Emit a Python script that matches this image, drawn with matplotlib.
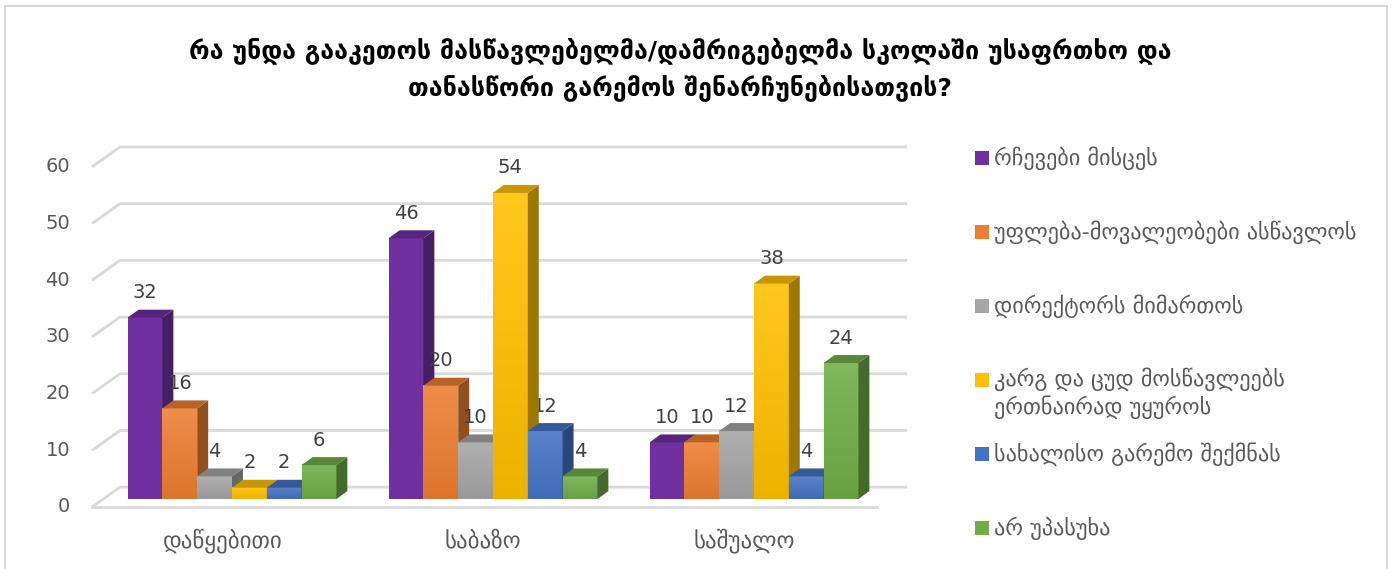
import numpy as np
import matplotlib.pyplot as plt
from matplotlib.patches import Polygon, Rectangle
from matplotlib.colors import to_rgb

# data
categories = ["დაწყებითი", "საბაზო", "საშუალო"]
series = [
    "რჩევები მისცეს",
    "უფლება-მოვალეობები ასწავლოს",
    "დირექტორს მიმართოს",
    "კარგ და ცუდ მოსწავლეებს\nერთნაირად უყუროს",
    "სახალისო გარემო შექმნას",
    "არ უპასუხა",
]
values = [
    [32, 46, 10],
    [16, 20, 10],
    [4, 10, 12],
    [2, 54, 38],
    [2, 12, 4],
    [6, 4, 24],
]
colors = ["#7030A0", "#ED7D31", "#A5A5A5", "#FFC000", "#4472C4", "#70AD47"]
yticks = [0, 10, 20, 30, 40, 50, 60]
title = ("რა უნდა გააკეთოს მასწავლებელმა/დამრიგებელმა სკოლაში უსაფრთხო და\n"
         "თანასწორი გარემოს შენარჩუნებისათვის?")

plt.rcParams['font.family'] = ['DejaVu Sans']

W, H = 1392, 569
fig = plt.figure(figsize=(W / 100, H / 100), dpi=100)

# axes box in pixels (left, top, right, bottom)
L, T, R, B = 80, 130, 960, 530
ax = fig.add_axes([L / W, 1 - B / H, (R - L) / W, (B - T) / H])
# mapping: px = 232 + 261*x ; py = 507 - 5.67*y
xlim = ((L - 232) / 261, (R - 232) / 261)
ylim = ((507 - B) / 5.67, (507 - T) / 5.67)
ax.axis('off')

grid_c = "#D9D9D9"
back_dy = 3.5      # back wall offset (value units)
x_front, x_back, x_end, floor_end = -0.536, -0.429, 2.586, 2.471
for t in yticks:
    ax.plot([x_front, x_back, x_end], [t, t + back_dy, t + back_dy],
            color=grid_c, lw=2, solid_capstyle='butt', zorder=1)
    ax.text(-0.62, t, str(t), ha='right', va='center', fontsize=14, color="#595959")
ax.plot([x_front, floor_end], [0, 0], color=grid_c, lw=2, zorder=1)

# 3d bars
bw = 0.8 / len(series)
base = 1.4
ddx, ddy = 0.042, 1.4


def shade(c, f):
    r, g, b = to_rgb(c)
    if f < 1:
        return (r * f, g * f, b * f)
    return tuple(v + (1 - v) * (f - 1) for v in (r, g, b))


z = 2
for gi in range(len(categories)):
    for si in range(len(series)):
        v = values[si][gi]
        x0 = gi - 0.4 + si * bw
        c = colors[si]
        top = base + v
        grad = np.linspace(0, 1, 50)[:, None]
        c_top = np.array(shade(c, 1.12))
        c_bot = np.array(shade(c, 0.93))
        if si == 0:
            c_top = np.array(to_rgb(c))
            c_bot = c_top
        img = c_bot[None, None, :] * (1 - grad[..., None]) + c_top[None, None, :] * grad[..., None]
        ax.imshow(img, extent=[x0, x0 + bw, base, top], origin='lower',
                  aspect='auto', zorder=z, interpolation='bilinear')
        side = Polygon([(x0 + bw, base), (x0 + bw + ddx, base + ddy),
                        (x0 + bw + ddx, top + ddy), (x0 + bw, top)],
                       closed=True, fc=shade(c, 0.62), ec='none', zorder=z)
        topf = Polygon([(x0, top), (x0 + bw, top), (x0 + bw + ddx, top + ddy),
                        (x0 + ddx, top + ddy)],
                       closed=True, fc=shade(c, 0.78), ec='none', zorder=z)
        ax.add_patch(side)
        ax.add_patch(topf)
        ax.text(x0 + bw / 2, top + 4.4, str(v), ha='center', va='center',
                fontsize=14, color="#404040", zorder=10)
        z += 1
    ax.text(gi - 0.037, -6.0, categories[gi], ha='center', va='center',
            fontsize=16.5, color="#595959")

ax.set_xlim(*xlim)
ax.set_ylim(*ylim)

# legend
leg_y = [158, 232, 306, 393, 454, 528]
for si, name in enumerate(series):
    y = leg_y[si]
    sq_y = y if "\n" not in name else y - 13
    fig.patches.append(Rectangle((975 / W, 1 - (sq_y + 7) / H), 14 / W, 14 / H,
                                 transform=fig.transFigure, fc=colors[si], ec='none'))
    fig.text(994 / W, 1 - y / H, name, ha='left', va='center', fontsize=16,
             color="#595959", linespacing=1.25)

fig.text(680 / W, 1 - 69 / H, title, ha='center', va='center', fontsize=18,
         fontweight='bold', color="black", linespacing=1.45)

# chart border
fig.patches.append(Rectangle((5 / W, -0.01), 1382 / W, 1 - 6 / H + 0.01,
                             transform=fig.transFigure, fill=False,
                             ec="#D9D9D9", lw=1.5))

fig.savefig("out.png", dpi=100)
